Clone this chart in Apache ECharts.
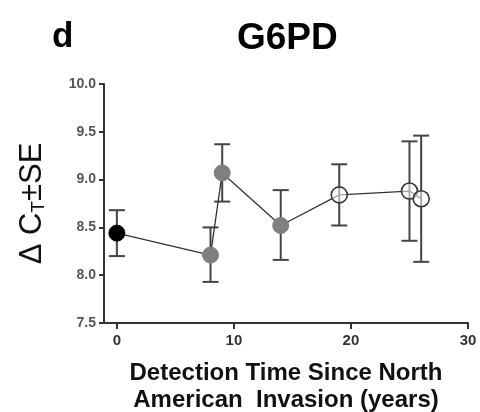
<!DOCTYPE html>
<html>
<head>
<meta charset="utf-8">
<script src="https://cdn.jsdelivr.net/npm/echarts@6/dist/echarts.min.js"></script>
<style>
  html, body { margin: 0; padding: 0; background: #fff; }
  #chart { width: 480px; height: 412px; }
</style>
</head>
<body>
<div id="chart"></div>
<script>
// detection time (years) and delta CT with SE bounds
const years = [0, 8, 9, 14, 19, 25, 26]
const deltaCt = [8.44, 8.21, 9.07, 8.52, 8.84, 8.88, 8.80]
const seLow = [8.20, 7.93, 8.77, 8.16, 8.52, 8.36, 8.14]
const seHigh = [8.68, 8.50, 9.37, 8.89, 9.16, 9.40, 9.46]
// marker kind per point: early, mid, late
const pointKind = ['black', 'gray', 'gray', 'gray', 'open', 'open', 'open']
const xTicks = [0, 10, 20, 30]

const markerStyle = {
  black: { color: '#000', borderColor: '#000', borderWidth: 1 },
  gray: { color: '#7f7f7f', borderColor: '#7f7f7f', borderWidth: 1 },
  open: { color: 'rgba(255,255,255,0.55)', borderColor: '#333', borderWidth: 1.6 },
}

const chart = echarts.init(document.getElementById('chart'))

const lineData = years.map((x, i) => ({
  value: [x, deltaCt[i]],
  itemStyle: markerStyle[pointKind[i]],
}))
const errData = years.map((x, i) => [x, seLow[i], seHigh[i]])

const option = {
  animation: false,
  textStyle: { fontFamily: 'Liberation Sans, Arial, sans-serif' },
  title: [
    { text: 'd', left: 47, top: 15, textStyle: { fontSize: 35, fontWeight: 'bold', color: '#000' } },
    { text: 'G6PD', left: 232, top: 15, textStyle: { fontSize: 37, fontWeight: 'bold', color: '#000' } },
  ],
  grid: { left: 104, right: 12, top: 84, bottom: 89, outerBoundsMode: 'none' },
  xAxis: {
    type: 'value',
    min: -1.1,
    max: 30,
    splitLine: { show: false },
    axisLine: { lineStyle: { color: '#333', width: 2 } },
    axisTick: { customValues: xTicks, length: 6, lineStyle: { color: '#333', width: 2 } },
    axisLabel: { customValues: xTicks, margin: 10, fontSize: 15, fontWeight: 'bold', color: '#333' },
    name: 'Detection Time Since North\nAmerican  Invasion (years)',
    nameLocation: 'middle',
    nameGap: 37,
    nameTextStyle: { fontSize: 24, fontWeight: 'bold', color: '#111', lineHeight: 27 },
  },
  yAxis: {
    type: 'value',
    min: 7.5,
    max: 10,
    interval: 0.5,
    splitLine: { show: false },
    axisLine: { show: true, onZero: false, lineStyle: { color: '#333', width: 2 } },
    axisTick: { show: true, length: 5, lineStyle: { color: '#333', width: 2 } },
    axisLabel: {
      margin: 8,
      fontSize: 14,
      fontWeight: 'bold',
      color: '#555',
      formatter: v => v.toFixed(1),
    },
    name: '{n|Δ C}{s|T}{n|±SE}',
    nameLocation: 'middle',
    nameRotate: 90,
    nameGap: 56,
    nameTextStyle: {
      rich: {
        n: { fontSize: 31, color: '#111', fontFamily: 'Liberation Sans, Arial, sans-serif' },
        s: { fontSize: 19, color: '#111', verticalAlign: 'bottom', padding: [11, 0, 0, 0], fontFamily: 'Liberation Sans, Arial, sans-serif' },
      },
    },
  },
  series: [
    {
      type: 'custom',
      z: 2,
      data: errData,
      renderItem: (params, api) => {
        const x = api.value(0)
        const lo = api.coord([x, api.value(1)])
        const hi = api.coord([x, api.value(2)])
        const half = 8
        const style = { stroke: '#444', lineWidth: 2 }
        return {
          type: 'group',
          children: [
            { type: 'line', shape: { x1: lo[0], y1: lo[1], x2: hi[0], y2: hi[1] }, style },
            { type: 'line', shape: { x1: hi[0] - half, y1: hi[1], x2: hi[0] + half, y2: hi[1] }, style },
            { type: 'line', shape: { x1: lo[0] - half, y1: lo[1], x2: lo[0] + half, y2: lo[1] }, style },
          ],
        }
      },
    },
    {
      type: 'line',
      z: 3,
      data: lineData,
      symbol: 'circle',
      symbolSize: 16,
      lineStyle: { color: '#333', width: 1.3 },
    },
  ],
}

chart.setOption(option)
</script>
</body>
</html>
